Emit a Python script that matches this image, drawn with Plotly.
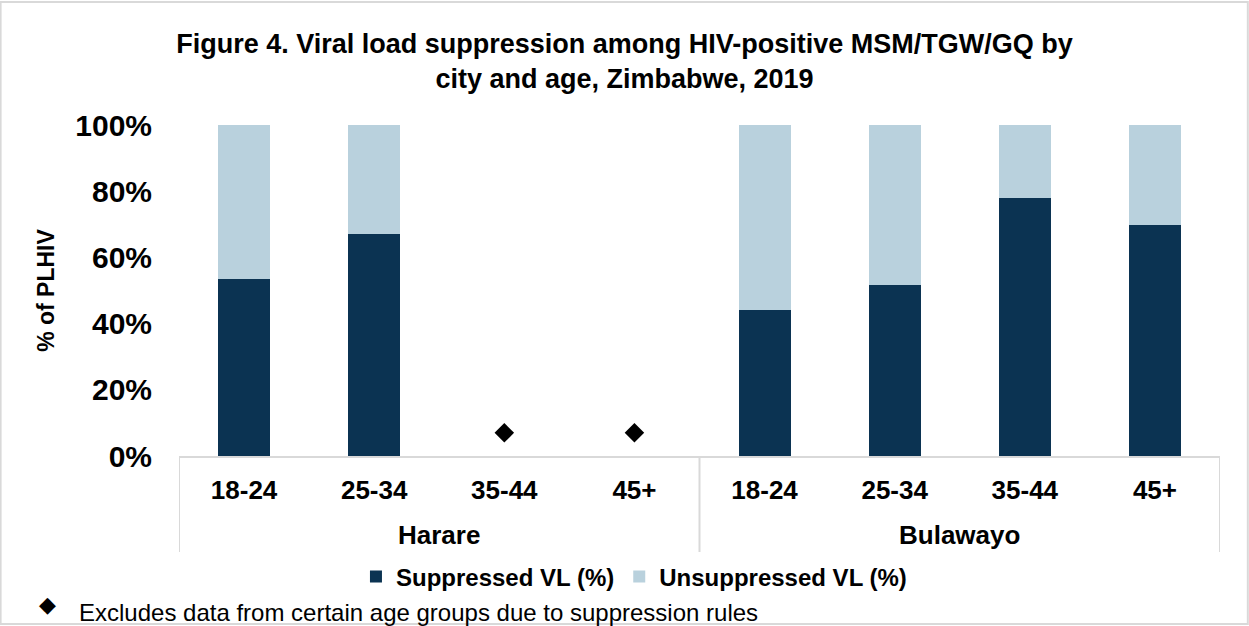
import plotly.graph_objects as go

cities = ["Harare", "Bulawayo"]
ages = ["18-24", "25-34", "35-44", "45+"]
city_of_bar = ["Harare"] * 4 + ["Bulawayo"] * 4
age_of_bar = ages * 2
suppressed = [53.5, 67.0, None, None, 44.2, 51.8, 78.0, 69.8]
unsuppressed = [None if v is None else round(100 - v, 1) for v in suppressed]
excluded_marker = [None, None, 7, 7, None, None, None, None]

title_text = "Figure 4. Viral load suppression among HIV-positive MSM/TGW/GQ by<br>city and age, Zimbabwe, 2019"
footnote = "Excludes data from certain age groups due to suppression rules"

DARK = "#0B3352"
LIGHT = "#B9D1DD"
GRAY = "#D9D9D9"
FONT = "Arial, Liberation Sans, sans-serif"

W, H = 1249, 626
L, R, T, B = 179.3, 29.3, 125, 170
pw, ph = W - L - R, H - T - B

def px(xp):
    return (xp - L) / pw

def py(yp):
    return (H - B - yp) / ph

xpos = list(range(len(age_of_bar)))

fig = go.Figure()
fig.add_trace(go.Bar(x=xpos, y=suppressed, name="Suppressed VL (%)", width=0.4,
                     marker=dict(color=DARK, line=dict(width=0))))
fig.add_trace(go.Bar(x=xpos, y=unsuppressed, name="Unsuppressed VL (%)", width=0.4,
                     marker=dict(color=LIGHT, line=dict(width=0))))
fig.add_trace(go.Scatter(x=xpos, y=excluded_marker, mode="markers", showlegend=False,
                         marker=dict(symbol="diamond", size=15, color="black")))

fig.update_layout(
    width=W, height=H,
    margin=dict(l=L, r=R, t=T, b=B, autoexpand=False),
    paper_bgcolor="white", plot_bgcolor="white",
    barmode="stack",
    font=dict(family=FONT, color="black"),
    title=dict(text="<b>" + title_text + "</b>", x=0.5, xanchor="center",
               y=1 - 53 / H, yanchor="middle", yref="container",
               font=dict(size=27, family=FONT, color="black")),
    legend=dict(orientation="h", x=px(634), xanchor="center", y=py(577), yanchor="middle",
                font=dict(size=24, family=FONT, color="black", weight="bold"),
                itemwidth=30, traceorder="normal"),
    xaxis=dict(range=[-0.5, len(xpos) - 0.5], tickvals=xpos, ticktext=age_of_bar,
               showline=True, linecolor=GRAY, linewidth=2, zeroline=False,
               showgrid=False, ticks="", ticklabelstandoff=10,
               tickfont=dict(size=26, family=FONT, color="black", weight="bold")),
    yaxis=dict(range=[0, 100], tickvals=[0, 20, 40, 60, 80, 100],
               ticktext=["0%", "20%", "40%", "60%", "80%", "100%"],
               showgrid=False, zeroline=False, showline=False, ticks="",
               ticklabelstandoff=26,
               tickfont=dict(size=30, family=FONT, color="black", weight="bold"),
               title=dict(text="<b>% of PLHIV</b>", standoff=14,
                          font=dict(size=23, family=FONT, color="black"))),
)

# city group labels and dividers on the category axis
for i, city in enumerate(cities):
    idx = [k for k, c in enumerate(city_of_bar) if c == city]
    center = (idx[0] + idx[-1]) / 2
    fig.add_annotation(text="<b>" + city + "</b>", x=center, xref="x", y=py(535), yref="paper",
                       showarrow=False, xanchor="center", yanchor="middle",
                       font=dict(size=26, family=FONT, color="black"))
bounds = [-0.5] + [k + 0.5 for k in range(len(city_of_bar) - 1)
                   if city_of_bar[k] != city_of_bar[k + 1]] + [len(city_of_bar) - 0.5]
for b in bounds:
    fig.add_shape(type="line", xref="x", yref="paper", x0=b, x1=b, y0=py(552), y1=0,
                  line=dict(color=GRAY, width=2))

fig.add_annotation(text="◆", x=px(48), y=py(604), xref="paper", yref="paper",
                   showarrow=False, xanchor="center", yanchor="middle",
                   font=dict(size=22, color="black", family="DejaVu Sans"))
fig.add_annotation(text=footnote, x=px(77), y=py(612), xref="paper", yref="paper",
                   showarrow=False, xanchor="left", yanchor="middle",
                   font=dict(size=24, color="black", family=FONT))

fig.add_shape(type="rect", xref="paper", yref="paper",
              x0=px(1), x1=px(1247.5), y0=py(624), y1=py(2),
              line=dict(color=GRAY, width=2), fillcolor="rgba(0,0,0,0)", layer="below")

fig.write_html("out.html", config={"displayModeBar": False},
               post_script="document.body.style.margin='0';document.body.style.overflow='hidden';")
